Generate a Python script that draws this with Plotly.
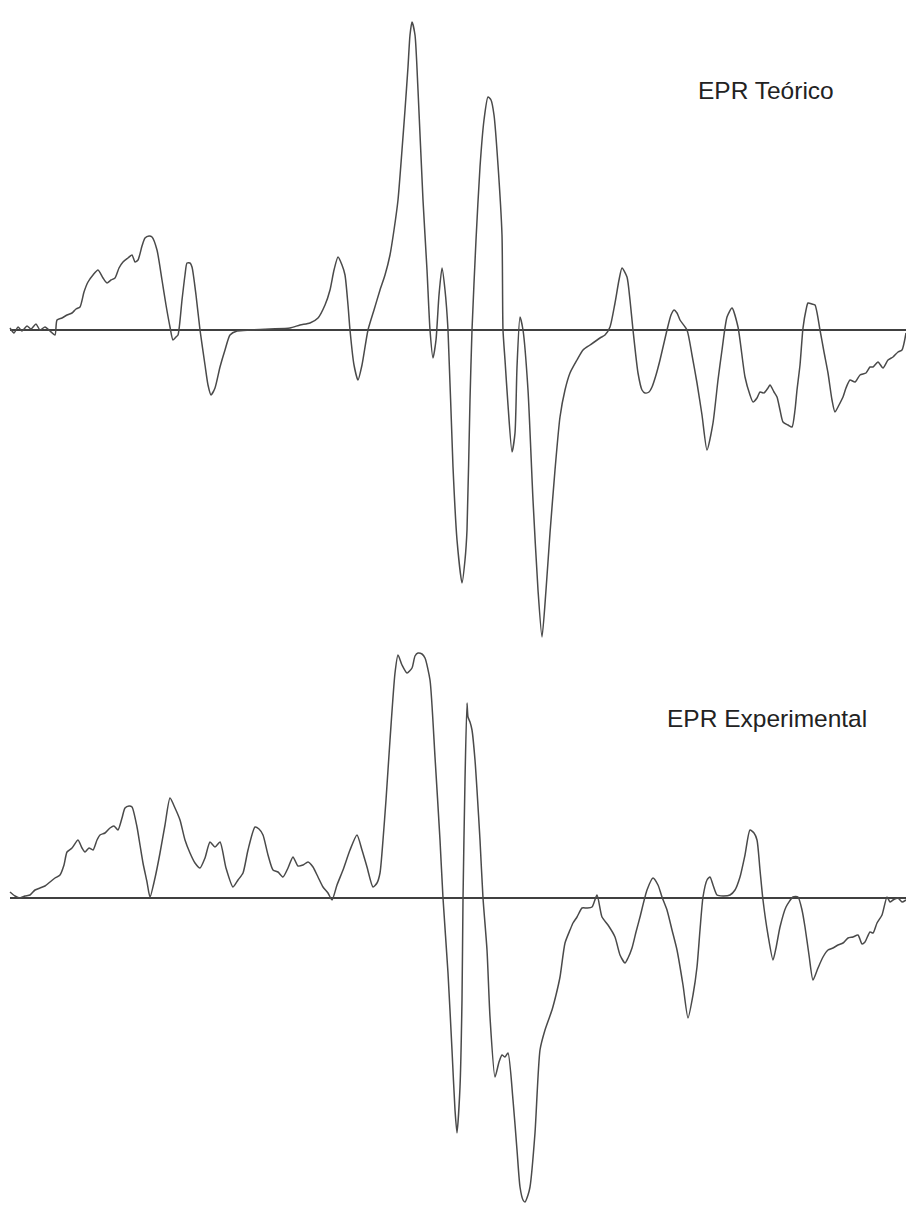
import plotly.graph_objects as go

# Field axis (arbitrary units) and signal amplitude relative to the baseline
theo_field = [10, 14, 18, 22, 27, 31, 36, 40, 45, 50, 55, 57, 62, 67, 72, 76, 80, 84, 88, 93,
              98, 103, 107, 111, 115, 119, 123, 128, 132, 135, 138, 142, 145, 149, 152, 157, 162, 166, 170, 173,
              176, 178, 182, 185, 187, 190, 192, 196, 200, 205, 208, 211, 215, 220, 225, 230, 237, 250, 270, 290,
              300, 310, 318, 325, 330, 334, 338, 342, 345, 348, 350, 354, 358, 362, 368, 374, 380, 385, 390, 394,
              398, 402, 405, 408, 410, 412, 415, 418, 423, 427, 430, 433, 436, 439, 442, 445, 448, 453, 457, 462,
              465, 467, 470, 472, 476, 480, 484, 488, 491, 494, 498, 502, 503, 505, 508, 512, 515, 517, 520, 523,
              528, 533, 538, 542, 546, 550, 555, 560, 565, 570, 577, 583, 590, 600, 605, 610, 615, 619, 622, 627,
              630, 633, 638, 642, 645, 649, 652, 656, 660, 667, 671, 674, 677, 680, 687, 692, 697, 702, 707, 713,
              718, 722, 727, 732, 738, 745, 750, 753, 757, 760, 764, 768, 770, 774, 777, 780, 783, 788, 792, 795,
              797, 800, 803, 806, 808, 812, 815, 820, 824, 828, 832, 835, 839, 843, 846, 850, 855, 860, 866, 870,
              873, 878, 883, 888, 893, 898, 902, 906]
theo_signal = [2, -3, 3, -1, 4, 1, 6, 0, 3, -1, -5, 10, 12, 15, 17, 21, 23, 38, 48, 55,
               60, 52, 47, 50, 52, 62, 68, 72, 75, 68, 70, 84, 92, 94, 93, 80, 50, 25, 3, -10,
               -7, -5, 30, 55, 67, 67, 63, 35, 0, -35, -55, -65, -58, -37, -20, -5, -1, 0, 1, 2,
               5, 7, 12, 25, 40, 60, 73, 65, 55, 25, 0, -35, -50, -35, 0, 20, 40, 55, 75, 100,
               130, 180, 220, 263, 295, 308, 295, 240, 130, 60, 0, -28, -10, 35, 62, 40, 0, -137, -210, -253,
               -230, -200, -70, 0, 90, 163, 210, 233, 230, 215, 165, 95, 0, -30, -75, -122, -103, -37, 13, 0,
               -60, -170, -260, -307, -260, -203, -140, -87, -60, -43, -30, -20, -15, -8, -5, 3, 27, 50, 62, 53,
               30, 0, -43, -60, -63, -62, -57, -45, -30, 0, 15, 20, 17, 10, 0, -25, -53, -85, -120, -93,
               -50, -20, 13, 22, 3, -47, -65, -72, -68, -62, -63, -58, -55, -62, -67, -80, -92, -95, -97, -80,
               -60, -35, 2, 20, 27, 26, 25, 0, -22, -43, -70, -82, -75, -67, -58, -50, -52, -45, -43, -37,
               -37, -32, -38, -30, -27, -22, -20, -3]

exp_field = [10, 15, 20, 25, 30, 35, 40, 45, 50, 55, 60, 64, 67, 72, 78, 82, 85, 89, 93, 97,
             100, 105, 110, 114, 118, 122, 125, 129, 132, 137, 140, 143, 147, 150, 155, 160, 165, 170, 175, 180,
             185, 190, 195, 200, 205, 210, 215, 220, 226, 233, 238, 243, 248, 255, 259, 263, 268, 273, 278, 283,
             288, 293, 298, 303, 308, 313, 318, 323, 328, 332, 337, 343, 350, 357, 362, 367, 373, 377, 380, 383,
             386, 390, 395, 398, 402, 407, 412, 415, 418, 422, 425, 430, 435, 440, 443, 448, 452, 455, 457, 460,
             462, 463, 465, 467, 468, 470, 472, 475, 477, 480, 483, 487, 490, 495, 499, 502, 505, 508, 513, 517,
             520, 523, 525, 528, 530, 535, 540, 545, 552, 556, 560, 565, 570, 573, 577, 582, 587, 592, 597, 602,
             608, 615, 620, 625, 628, 632, 636, 640, 647, 653, 658, 662, 667, 672, 677, 683, 688, 693, 697, 700,
             703, 707, 710, 713, 717, 723, 730, 735, 740, 745, 750, 754, 757, 760, 763, 768, 773, 776, 780, 786,
             793, 798, 802, 805, 809, 813, 818, 823, 828, 833, 838, 843, 848, 853, 858, 862, 865, 870, 873, 877,
             882, 887, 890, 893, 898, 902, 906]
exp_signal = [6, 2, 0, 2, 3, 8, 10, 12, 16, 20, 23, 33, 46, 50, 58, 50, 46, 50, 48, 58,
              63, 65, 70, 72, 68, 80, 90, 92, 91, 71, 53, 35, 16, 1, 20, 45, 73, 100, 90, 78,
              58, 45, 35, 30, 40, 56, 51, 56, 30, 11, 18, 25, 48, 71, 69, 63, 43, 28, 26, 21,
              30, 41, 32, 33, 36, 31, 21, 11, 5, -2, 13, 28, 48, 63, 48, 31, 11, 15, 25, 58,
              98, 158, 225, 243, 233, 225, 230, 242, 245, 244, 240, 218, 141, 58, 0, -75, -152, -212, -235, -189,
              -102, -2, 118, 195, 181, 176, 168, 138, 108, 58, 0, -52, -119, -179, -164, -157, -159, -155, -202, -252,
              -289, -302, -304, -297, -289, -235, -152, -132, -112, -97, -79, -45, -32, -25, -19, -10, -10, -9, 3, -19,
              -27, -39, -57, -65, -60, -50, -34, -19, 8, 20, 13, 1, -12, -32, -52, -87, -120, -97, -69, -32,
              1, 18, 21, 13, 3, 2, 3, 8, 21, 43, 68, 65, 58, 28, -2, -37, -62, -50, -29, -9,
              1, 1, -12, -29, -57, -82, -70, -59, -52, -50, -47, -45, -40, -39, -37, -46, -44, -34, -35, -25,
              -17, 1, -4, -2, 0, -4, -2]

labels = ["EPR Teórico", "EPR Experimental"]

W, H = 906, 1207
split = 640 / H  # vertical split between the two spectra

line_style = dict(color="#4a4a4a", width=1.5, shape="spline", smoothing=0.6)

fig = go.Figure()
fig.add_trace(go.Scatter(x=theo_field, y=theo_signal, mode="lines", line=line_style,
                         xaxis="x", yaxis="y", showlegend=False, hoverinfo="skip"))
fig.add_trace(go.Scatter(x=exp_field, y=exp_signal, mode="lines", line=line_style,
                         xaxis="x2", yaxis="y2", showlegend=False, hoverinfo="skip"))

# Zero baselines
for xr, yr in (("x", "y"), ("x2", "y2")):
    fig.add_shape(type="line", xref=xr, yref=yr, x0=10, x1=906, y0=0, y1=0,
                  line=dict(color="black", width=1.6), layer="below")

axis_off = dict(visible=False, showgrid=False, zeroline=False, fixedrange=True)

fig.update_layout(
    width=W, height=H,
    margin=dict(l=0, r=0, t=0, b=0),
    paper_bgcolor="white", plot_bgcolor="white",
    xaxis=dict(range=[0, 906], domain=[0, 1], anchor="y", **axis_off),
    yaxis=dict(range=[-310, 330], domain=[1 - split, 1], anchor="x", **axis_off),
    xaxis2=dict(range=[0, 906], domain=[0, 1], anchor="y2", **axis_off),
    yaxis2=dict(range=[-309, 258], domain=[0, 1 - split], anchor="x2", **axis_off),
    font=dict(family="Liberation Sans, Arial, sans-serif", color="#222222"),
)

fig.add_annotation(text=labels[0], xref="x", yref="y", x=766, y=240,
                   showarrow=False, font=dict(size=24.5, color="#222222"))
fig.add_annotation(text=labels[1], xref="x2", yref="y2", x=767, y=180,
                   showarrow=False, font=dict(size=24.5, color="#222222"))

fig.write_html("out.html")
